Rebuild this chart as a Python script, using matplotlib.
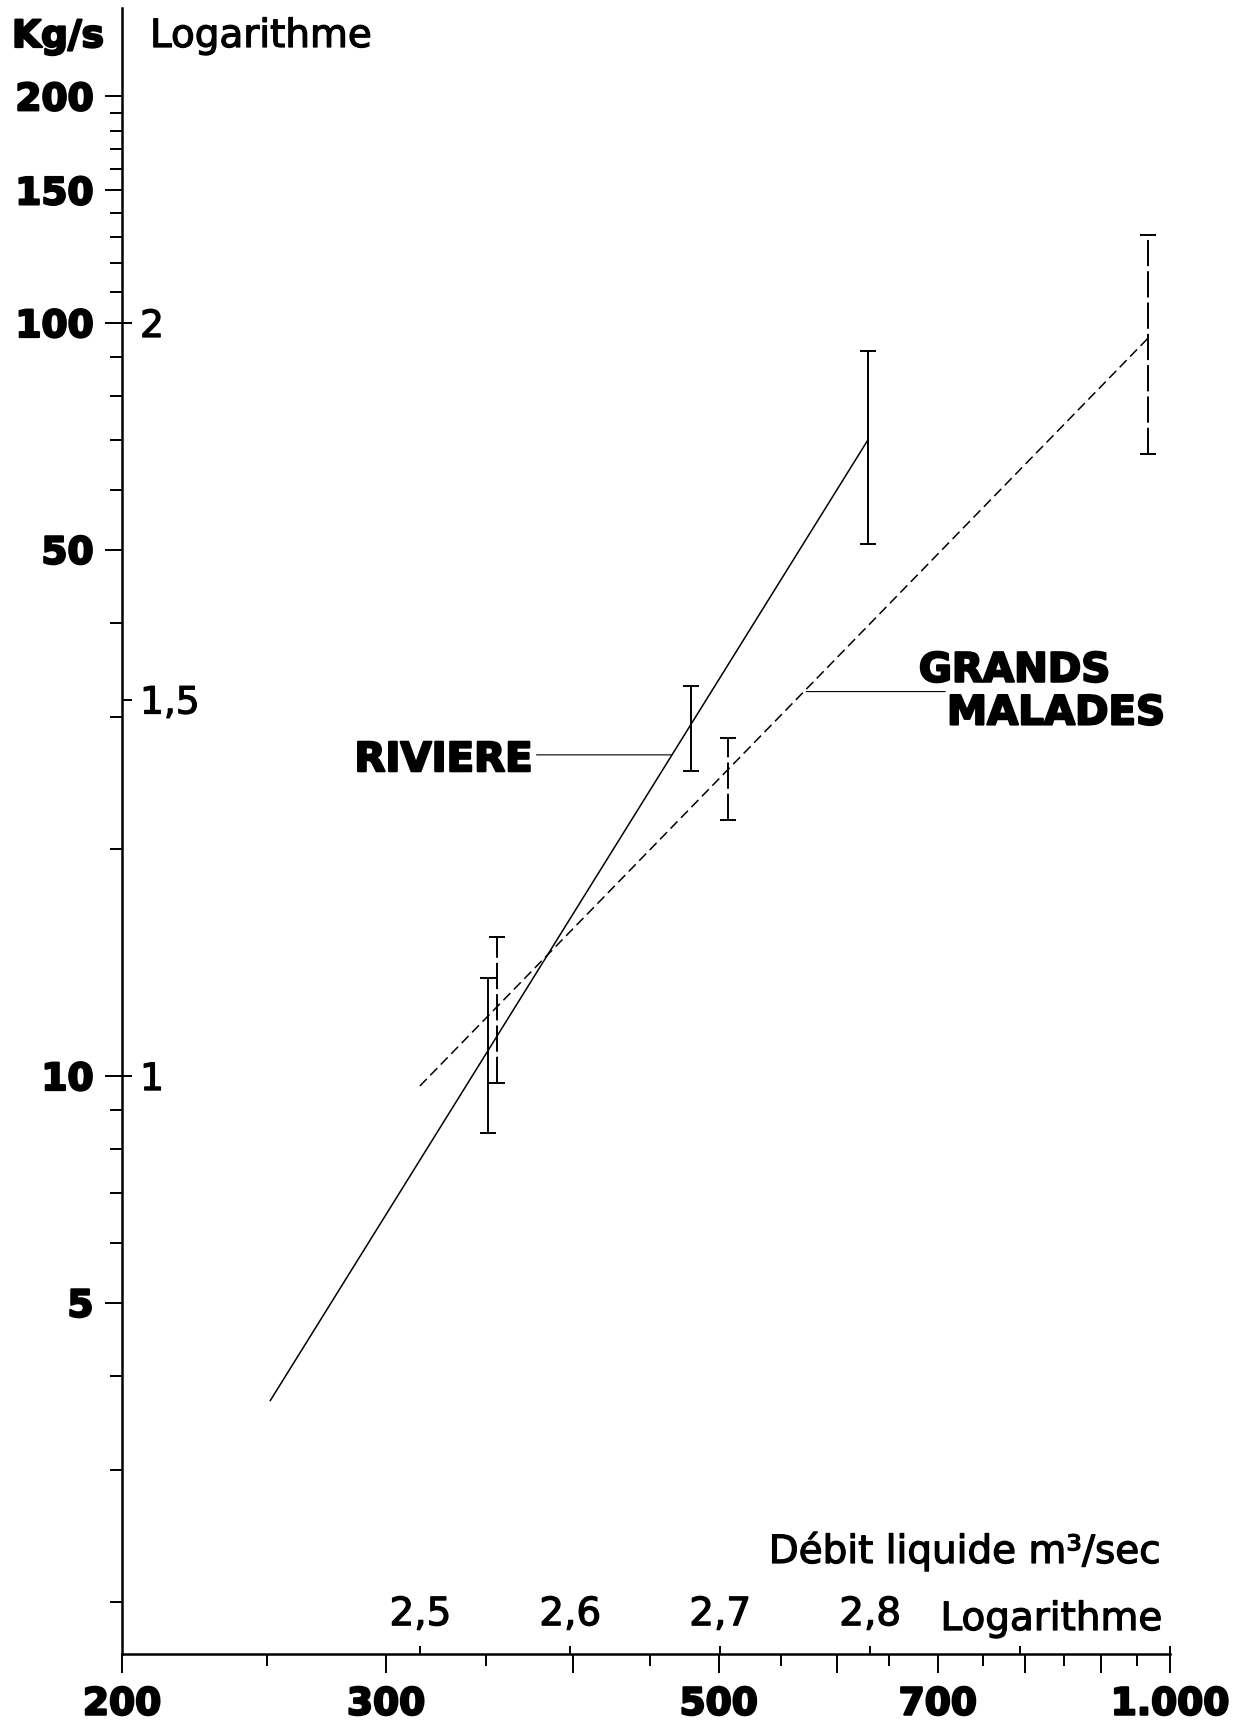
#!/usr/bin/env python3
"""
Debit solide vs debit liquide (log-log) - Riviere / Grands Malades
"""

import matplotlib.pyplot as plt
import matplotlib.patheffects as pe
import numpy as np
from matplotlib.ticker import FixedLocator, NullFormatter, NullLocator

# ============================================================================
# Data
# ============================================================================
# Regression lines: debit liquide (m3/s) -> debit solide (kg/s)
riviere_fit_q = [251, 629]
riviere_fit_s = [3.7, 70]
gm_fit_q = [316, 967]
gm_fit_s = [9.7, 95.5]

# Error bars (low / high) at the measuring points
riviere_q = [351, 479, 629]
riviere_lo = [8.4, 25.4, 50.9]
riviere_hi = [13.5, 33.0, 91.8]

gm_q = [356, 507, 967]
gm_lo = [9.8, 21.9, 67.0]
gm_hi = [15.3, 28.1, 131.0]

# Axis ticks
x_major = [200, 300, 400, 500, 600, 700, 800, 900, 1000]
x_major_labels = ['200', '300', '', '500', '', '700', '', '', '1.000']
x_minor = [250, 350, 450, 550, 650, 750, 850, 950]
y_major = [5, 10, 50, 100, 150, 200]
y_major_labels = ['5', '10', '50', '100', '150', '200']
y_minor = [2, 3, 4, 6, 7, 8, 9, 20, 30, 40, 60, 70, 80, 90,
           110, 120, 130, 140, 160, 170, 180, 190]
log_x_ticks = [2.5, 2.6, 2.7, 2.8, 2.9, 3.0]
log_x_labels = ['2,5', '2,6', '2,7', '2,8', '', '']
log_y_ticks = [1, 1.5, 2]
log_y_labels = ['1', '1,5', '2']

# heavier look for the printed lettering
heavy = [pe.withStroke(linewidth=1.6, foreground='black')]
medium = [pe.withStroke(linewidth=0.9, foreground='black')]

W, H = 1237, 1720
fig = plt.figure(figsize=(W / 100, H / 100), dpi=100)
ax = fig.add_axes([122 / W, 1 - 1654 / H, (1170 - 122) / W, (1654 - 8) / H])
ax.set_xscale('log')
ax.set_yscale('log')
ax.set_xlim(200, 1000)
ax.set_ylim(1.708, 262)

for s in ['top', 'right']:
    ax.spines[s].set_visible(False)
for s in ['left', 'bottom']:
    ax.spines[s].set_linewidth(1.8)

# --- regression lines
ax.plot(riviere_fit_q, riviere_fit_s, color='black', lw=1.1,
        solid_capstyle='butt')
ax.plot(gm_fit_q, gm_fit_s, color='black', lw=1.1,
        linestyle=(0, (6.5, 3.3)))

# --- error bars (drawn from low with the full range as upper error)
r_up = np.array(riviere_hi) - np.array(riviere_lo)
ax.errorbar(riviere_q, riviere_lo, yerr=[np.zeros(3), r_up], fmt='none',
            ecolor='black', elinewidth=1.4, capsize=6, capthick=1.4)
g_up = np.array(gm_hi) - np.array(gm_lo)
eb = ax.errorbar(gm_q, gm_lo, yerr=[np.zeros(3), g_up], fmt='none',
                 ecolor='black', elinewidth=1.4, capsize=6, capthick=1.4)
eb[2][0].set_linestyle((0, (13.5, 2.6)))

# --- primary ticks
ax.set_xticks(x_major, x_major_labels, fontsize=27, fontweight='bold')
ax.set_xticks(x_minor, minor=True)
ax.xaxis.set_minor_formatter(NullFormatter())
ax.set_yticks(y_major, y_major_labels, fontsize=27, fontweight='bold')
ax.set_yticks(y_minor, minor=True)
ax.yaxis.set_minor_formatter(NullFormatter())
ax.tick_params(axis='x', which='major', length=13.5, width=1.4, pad=10)
ax.tick_params(axis='x', which='minor', length=8.5, width=1.4)
ax.tick_params(axis='y', which='major', length=12.5, width=1.4, pad=8)
ax.tick_params(axis='y', which='minor', length=8.5, width=1.4)
for lbl in ax.get_xticklabels() + ax.get_yticklabels():
    lbl.set_path_effects(heavy)

# --- "Logarithme" scale on the y axis (ticks to the right of the spine)
ax2 = ax.twinx()
ax2.set_yscale('log')
ax2.set_ylim(ax.get_ylim())
ax2.spines['right'].set_position(('axes', 0.0))
for s in ax2.spines.values():
    s.set_visible(False)
ax2.yaxis.set_major_locator(FixedLocator(10 ** np.array(log_y_ticks)))
ax2.set_yticklabels(log_y_labels, fontsize=27)
ax2.yaxis.set_minor_locator(NullLocator())
ax2.tick_params(axis='y', which='major', length=7, width=1.4, pad=6)
for lbl in ax2.get_yticklabels():
    lbl.set_path_effects(medium)

# --- "Logarithme" scale on the x axis (ticks above the spine)
ax3 = ax.twiny()
ax3.set_xscale('log')
ax3.set_xlim(200, 1000)
ax3.spines['top'].set_position(('axes', 0.0))
for s in ax3.spines.values():
    s.set_visible(False)
ax3.xaxis.set_major_locator(FixedLocator(10 ** np.array(log_x_ticks)))
ax3.set_xticklabels(log_x_labels, fontsize=28)
ax3.xaxis.set_minor_locator(NullLocator())
ax3.tick_params(axis='x', which='major', length=6, width=1.4, pad=9)
for lbl in ax3.get_xticklabels():
    lbl.set_path_effects(medium)

# --- labels of the two curves with their leader lines
ax.annotate('', xy=(465, 26.7), xytext=(378, 26.7),
            arrowprops=dict(arrowstyle='-', lw=0.8, color='black',
                            shrinkA=0, shrinkB=0))
ax.text(376, 25.4, 'RIVIERE', ha='right', va='baseline',
        fontsize=29, fontweight='bold', path_effects=heavy)
ax.annotate('', xy=(572, 32.4), xytext=(708, 32.4),
            arrowprops=dict(arrowstyle='-', lw=0.8, color='black',
                            shrinkA=0, shrinkB=0))
ax.text(680, 33.4, 'GRANDS', ha='left', va='baseline',
        fontsize=29, fontweight='bold', path_effects=heavy)
ax.text(710, 29.3, 'MALADES', ha='left', va='baseline',
        fontsize=29, fontweight='bold', path_effects=heavy)

# --- axis titles
fig.text(12 / W, 1 - 47 / H, 'Kg/s', ha='left', va='baseline',
         fontsize=27, fontweight='bold', path_effects=heavy)
fig.text(150 / W, 1 - 47 / H, 'Logarithme', ha='left', va='baseline',
         fontsize=28, path_effects=medium)
fig.text(1160 / W, 1 - 1563 / H, 'Débit liquide m³/sec', ha='right',
         va='baseline', fontsize=28, path_effects=medium)
fig.text(1162 / W, 1 - 1630 / H, 'Logarithme', ha='right', va='baseline',
         fontsize=28, path_effects=medium)

fig.savefig('out.png', dpi=100)
print("Saved: out.png")
